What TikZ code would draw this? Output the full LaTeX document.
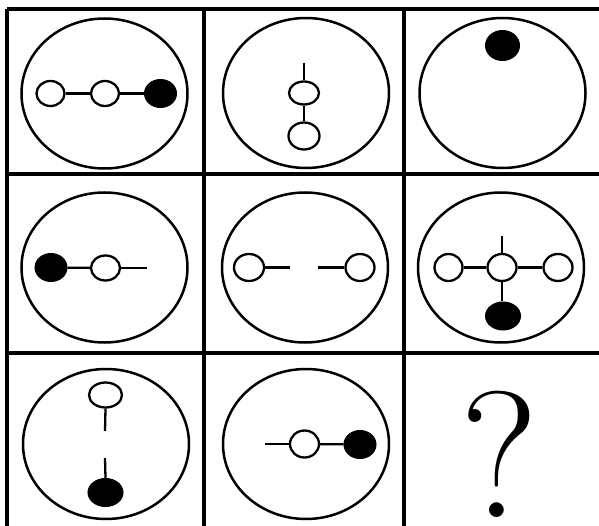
\documentclass[tikz,border=0pt]{standalone}
\usetikzlibrary{shapes.geometric}
\begin{document}
\begin{tikzpicture}[x=1pt,y=-1pt,
  frame/.style={line width=3.2pt},
  bigell/.style={draw, ellipse, line width=2.5pt, minimum width=166pt, minimum height=150pt, inner sep=0pt},
  wdot/.style={draw, ellipse, fill=white, line width=2.3pt, minimum width=28pt, minimum height=25pt, inner sep=0pt},
  bdot/.style={draw, ellipse, fill=black, line width=1pt, minimum width=32pt, minimum height=28pt, inner sep=0pt},
  link/.style={line width=2.3pt}]
\useasboundingbox (0,0) rectangle (599,526);
% grid
\draw[frame] (7,9) -- (601,9);
\draw[frame] (7,174) -- (601,174);
\draw[frame] (7,353) -- (601,353);
\draw[frame] (7,9) -- (7,528);
\draw[frame] (204,9) -- (204,528);
\draw[frame] (404,9) -- (404,528);
% big ellipses
\node[bigell] (E1) at (104.5,93.5) {};
\node[bigell] (E2) at (306,93) {};
\node[bigell] (E3) at (502.5,93) {};
\node[bigell] (E4) at (104.5,267.5) {};
\node[bigell] (E5) at (305,267.5) {};
\node[bigell] (E6) at (501,267.5) {};
\node[bigell] (E7) at (106,444) {};
\node[bigell] (E8) at (306,444) {};
% cell 1
\node[wdot] (a1) at (50.5,93.5) {};
\node[wdot] (a2) at (105,93.5) {};
\node[bdot] (a3) at (160.5,93.5) {};
\draw[link] (a1) -- (a2);
\draw[link] (a2) -- (a3);
% cell 2
\coordinate (b0) at (304,63);
\node[wdot, minimum width=30pt, minimum height=23pt] (b1) at (304,93) {};
\node[wdot, minimum width=31pt, minimum height=27pt] (b2) at (304,136) {};
\draw[link] (b0) -- (b1);
\draw[link] (b1) -- (b2);
% cell 3
\node[bdot, minimum width=34pt, minimum height=30pt] (c1) at (502.5,45.5) {};
% cell 4
\node[bdot] (d1) at (51,267.5) {};
\node[wdot, minimum width=29pt] (d2) at (105.5,268) {};
\coordinate (d3) at (147,268);
\draw[link] (d1) -- (d2);
\draw[link] (d2) -- (d3);
% cell 5
\node[wdot, minimum width=30pt, minimum height=27pt] (e1) at (249,267.5) {};
\coordinate (e1t) at (290,267.5);
\coordinate (e2t) at (318,267.5);
\node[wdot, minimum width=29pt, minimum height=27pt] (e2) at (360,267.5) {};
\draw[link] (e1) -- (e1t);
\draw[link] (e2t) -- (e2);
% cell 6
\node[wdot, minimum height=27pt] (f1) at (448.5,267.5) {};
\node[wdot, minimum width=29pt, minimum height=27pt] (f2) at (502,267.5) {};
\node[wdot, minimum width=29pt, minimum height=27pt] (f3) at (558,267.5) {};
\coordinate (f0) at (502,236);
\node[bdot, minimum width=35pt] (f4) at (503,316) {};
\draw[link] (f1) -- (f2);
\draw[link] (f2) -- (f3);
\draw[link] (f0) -- (f2);
\draw[link] (f2) -- (f2 |- f4.north);
% cell 7
\node[wdot, minimum width=33pt, minimum height=25pt] (g1) at (105.5,395) {};
\coordinate (g1t) at (105,431);
\coordinate (g2t) at (105,458);
\node[bdot, minimum width=35pt] (g2) at (105.5,492.5) {};
\draw[link] (g1.south) -- (g1t);
\draw[link] (g2t) -- (g2.north);
% cell 8
\coordinate (h0) at (265,444);
\node[wdot, minimum width=29pt, minimum height=27pt] (h1) at (304.5,444) {};
\node[bdot] (h2) at (360,444.5) {};
\draw[link] (h0) -- (h1);
\draw[link] (h1) -- (h2);
% cell 9
\node[inner sep=0pt] (q) at (499,454.5) {\fontsize{180}{180}\selectfont ?};
\end{tikzpicture}
\end{document}
